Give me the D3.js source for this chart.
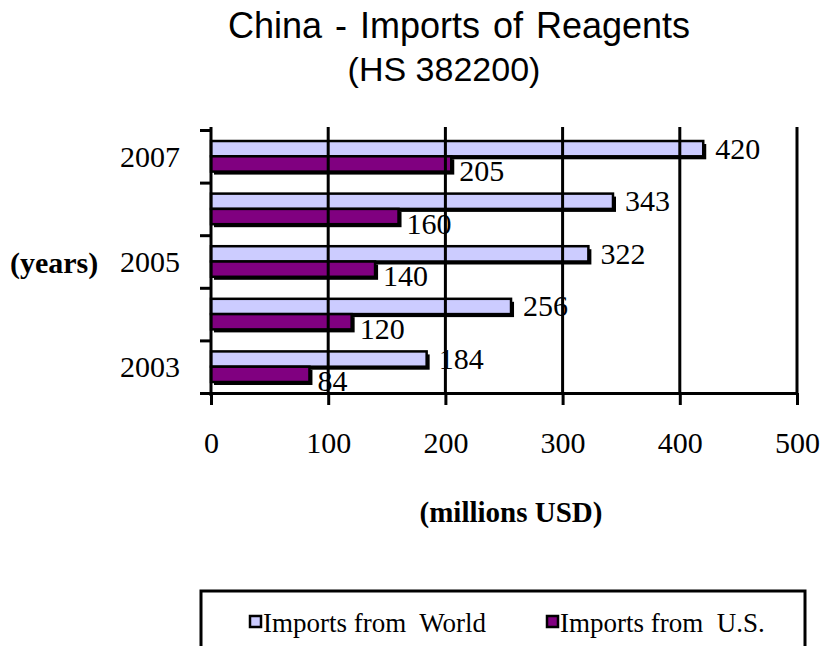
<!DOCTYPE html>
<html>
<head>
<meta charset="utf-8">
<script src="https://cdn.jsdelivr.net/npm/d3@7"></script>
<style>
  body { margin: 0; background: #fff; }
  text { font-family: "Liberation Serif", "Times New Roman", serif; }
</style>
</head>
<body>
<div id="chart"></div>
<script>
// data
const years = ["2003", "2004", "2005", "2006", "2007"];
const worldValues = [184, 256, 322, 343, 420];
const usValues = [84, 120, 140, 160, 205];
const seriesNames = ["Imports from World", "Imports from U.S."];
const seriesColors = ["#ccccff", "#800080"];
const xTickValues = [0, 100, 200, 300, 400, 500];
const yearLabels = ["2003", "2005", "2007"];

const width = 823, height = 646;
const plot = { left: 211, right: 797, top: 127, bottom: 393 };

const svg = d3.select("#chart")
    .append("svg")
    .attr("width", width)
    .attr("height", height);

// title
svg.append("text")
    .attr("x", 459).attr("y", 38)
    .attr("text-anchor", "middle")
    .style("font-family", "'Liberation Sans', Arial, sans-serif")
    .style("font-size", "36px")
    .style("word-spacing", "3px")
    .text("China - Imports of Reagents");
svg.append("text")
    .attr("x", 444).attr("y", 81)
    .attr("text-anchor", "middle")
    .style("font-family", "'Liberation Sans', Arial, sans-serif")
    .style("font-size", "34px")
    .text("(HS 382200)");

// scales
const x = d3.scaleLinear().domain([0, 500]).range([plot.left, plot.right]);
const y = d3.scaleBand().domain(years.slice().reverse()).range([130, plot.bottom]).padding(0);
const yInner = d3.scaleBand().domain(seriesNames).range([0, y.bandwidth()]).paddingInner(0).paddingOuter(0.72);
const yTick = d3.scaleLinear().domain([0, years.length]).range([plot.bottom, 130]);

const rows = years.map((yr, i) => ({ year: yr, values: [worldValues[i], usValues[i]] }));
const barData = d => d.values.map((v, j) => ({ name: seriesNames[j], value: v, j: j }));

// bars
const groups = svg.append("g").selectAll("g")
    .data(rows)
    .join("g")
    .attr("transform", d => `translate(0,${y(d.year)})`);

// shadow
groups.selectAll("rect.shadow")
    .data(barData)
    .join("rect")
    .attr("class", "shadow")
    .attr("x", x(0) + 3)
    .attr("y", d => yInner(d.name) + 3)
    .attr("width", d => x(d.value) - x(0))
    .attr("height", yInner.bandwidth())
    .attr("fill", "#000");

groups.selectAll("rect.bar")
    .data(barData)
    .join("rect")
    .attr("class", "bar")
    .attr("x", x(0))
    .attr("y", d => yInner(d.name))
    .attr("width", d => x(d.value) - x(0))
    .attr("height", yInner.bandwidth())
    .attr("fill", d => seriesColors[d.j])
    .attr("stroke", "#000")
    .attr("stroke-width", 2.5);

// data labels (clipped to plot area)
svg.append("clipPath").attr("id", "plotclip")
    .append("rect")
    .attr("x", plot.left).attr("y", plot.top)
    .attr("width", width - plot.left).attr("height", plot.bottom - plot.top);

const labelDx = [12, 8], labelDy = [10, 17];
const labelLayer = svg.append("g").attr("clip-path", "url(#plotclip)");
labelLayer.selectAll("g")
    .data(rows)
    .join("g")
    .attr("transform", d => `translate(0,${y(d.year)})`)
    .selectAll("text")
    .data(barData)
    .join("text")
    .attr("x", d => x(d.value) + labelDx[d.j])
    .attr("y", d => yInner(d.name) + yInner.bandwidth() / 2 + labelDy[d.j])
    .style("font-size", "30px")
    .text(d => d.value);

// gridlines
svg.append("g").selectAll("line")
    .data(xTickValues.slice(1))
    .join("line")
    .attr("x1", d => x(d)).attr("x2", d => x(d))
    .attr("y1", plot.top).attr("y2", plot.bottom)
    .attr("stroke", "#000")
    .attr("stroke-width", 3);

// x axis
const xAxis = svg.append("g")
    .attr("transform", `translate(0,${plot.bottom})`)
    .call(d3.axisBottom(x).tickValues(xTickValues).tickSize(12).tickPadding(27).tickSizeOuter(0));
xAxis.select(".domain").attr("stroke-width", 3);
xAxis.selectAll(".tick line").attr("stroke-width", 3);
xAxis.selectAll(".tick text")
    .style("font-family", "'Liberation Serif', 'Times New Roman', serif")
    .style("font-size", "30px")
    .attr("fill", "#000");

// y axis ticks at category boundaries
const yAxis = svg.append("g")
    .attr("transform", `translate(${plot.left},0)`)
    .call(d3.axisLeft(yTick).tickValues(d3.range(years.length + 1)).tickFormat("").tickSize(11).tickSizeOuter(0));
yAxis.select(".domain").attr("stroke-width", 3)
    .attr("d", `M0,${plot.top}V${plot.bottom + 3}`);
yAxis.selectAll(".tick line").attr("stroke-width", 3);

// year labels
const yLab = svg.append("g")
    .attr("transform", `translate(${plot.left},0)`)
    .call(d3.axisLeft(y).tickValues(yearLabels).tickSize(0).tickPadding(31));
yLab.select(".domain").remove();
yLab.selectAll(".tick text")
    .style("font-family", "'Liberation Serif', 'Times New Roman', serif")
    .style("font-size", "30px")
    .attr("dy", "0.35em")
    .attr("fill", "#000");

// axis titles
svg.append("text")
    .attr("x", 10).attr("y", 273)
    .style("font-size", "30px").style("font-weight", "bold")
    .text("(years)");
svg.append("text")
    .attr("x", 511).attr("y", 522)
    .attr("text-anchor", "middle")
    .style("font-size", "29px").style("font-weight", "bold")
    .text("(millions USD)");

// legend
const legend = svg.append("g");
legend.append("rect")
    .attr("x", 201).attr("y", 591)
    .attr("width", 604).attr("height", 70)
    .attr("fill", "none")
    .attr("stroke", "#000")
    .attr("stroke-width", 3);

const legendX = [250, 547];
const items = legend.selectAll("g.item")
    .data(seriesNames)
    .join("g")
    .attr("class", "item")
    .attr("transform", (d, i) => `translate(${legendX[i]},616)`);
items.append("rect")
    .attr("width", 11).attr("height", 11)
    .attr("fill", (d, i) => seriesColors[i])
    .attr("stroke", "#000")
    .attr("stroke-width", 2.5);
items.append("text")
    .attr("x", 13).attr("y", 16)
    .style("font-size", "27px")
    .style("white-space", "pre")
    .text(d => d.replace("from ", "from  "));
</script>
</body>
</html>
